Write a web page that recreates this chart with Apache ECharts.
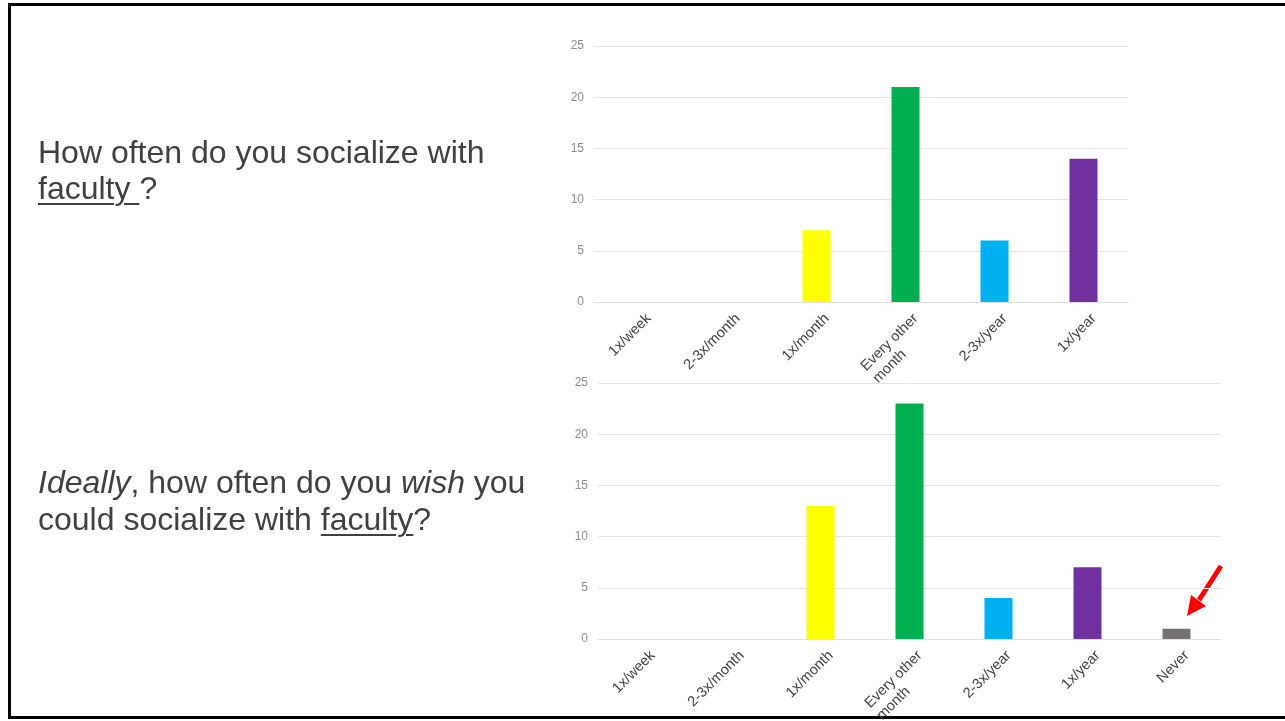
<!DOCTYPE html>
<html>
<head>
<meta charset="utf-8">
<script src="https://cdn.jsdelivr.net/npm/echarts@6/dist/echarts.min.js"></script>
<style>
  html, body { margin: 0; padding: 0; background: #fff; }
  #chart { width: 1285px; height: 721px; position: absolute; left: 0; top: 0; }
  .q { position: absolute; left: 38px; font-family: "Liberation Sans", Arial, sans-serif; font-size: 32px; line-height: 36px; color: #404040; white-space: nowrap; }
  .q u { text-decoration-thickness: 2px; text-underline-offset: 4px; }
</style>
</head>
<body>
<div id="chart"></div>
<div class="q" style="top:134px;">How often do you socialize with<br><u>faculty </u>?</div>
<div class="q" style="top:464px;line-height:37px;"><i>Ideally</i>, how often do you <i>wish</i> you<br>could socialize with <u>faculty</u>?</div>
<script>
const categoriesActual = ['1x/week', '2-3x/month', '1x/month', 'Every other\nmonth', '2-3x/year', '1x/year'];
const valuesActual = [0, 0, 7, 21, 6, 14];
const categoriesIdeal = ['1x/week', '2-3x/month', '1x/month', 'Every other\nmonth', '2-3x/year', '1x/year', 'Never'];
const valuesIdeal = [0, 0, 13, 23, 4, 7, 1];
const barColors = ['#4472C4', '#ED7D31', '#FFFF00', '#00B050', '#00B0F0', '#7030A0', '#767171'];
const yTicks = [0, 5, 10, 15, 20, 25];

const chart = echarts.init(document.getElementById('chart'), null, { renderer: 'canvas' });

function yAxisCfg(idx) {
  return {
    type: 'value', gridIndex: idx, min: yTicks[0], max: yTicks[yTicks.length - 1], interval: yTicks[1] - yTicks[0],
    axisLine: { show: false }, axisTick: { show: false },
    axisLabel: { color: '#8c8c8c', fontSize: 12, margin: 10, fontFamily: 'Liberation Sans, Arial, sans-serif' },
    splitLine: { lineStyle: { color: '#e4e4e4', width: 1 } }
  };
}
function xAxisCfg(idx, cats) {
  return {
    type: 'category', gridIndex: idx, data: cats,
    axisLine: { show: true, lineStyle: { color: '#e0e0e0' } }, axisTick: { show: false },
    axisLabel: {
      interval: 0, rotate: 45, margin: 4, verticalAlign: 'top', padding: [6, 0, 0, 0],
      formatter: (v) => v.split('\n').map(s => '{a|' + s + '}').join('\n'),
      rich: { a: { align: 'left', color: '#404040', fontSize: 14.5, lineHeight: 17, fontFamily: 'Liberation Sans, Arial, sans-serif' } }
    }
  };
}
function dataItems(vals) {
  return vals.map((v, i) => ({ value: v, itemStyle: { color: barColors[i] } }));
}

chart.setOption({
  animation: false,
  backgroundColor: '#ffffff',
  grid: [
    { left: 594, right: 157, top: 46, bottom: 419, containLabel: false, outerBoundsMode: 'none' },
    { left: 598, right: 64, top: 383, bottom: 82, containLabel: false, outerBoundsMode: 'none' }
  ],
  xAxis: [xAxisCfg(0, categoriesActual), xAxisCfg(1, categoriesIdeal)],
  yAxis: [yAxisCfg(0), yAxisCfg(1)],
  series: [
    { type: 'bar', xAxisIndex: 0, yAxisIndex: 0, data: dataItems(valuesActual), barWidth: 28 },
    { type: 'bar', xAxisIndex: 1, yAxisIndex: 1, data: dataItems(valuesIdeal), barWidth: 28 }
  ],
  graphic: [
    { type: 'rect', shape: { x: 9.5, y: 4.5, width: 1290, height: 713 }, style: { fill: 'none', stroke: '#000', lineWidth: 3 }, silent: true },
    { type: 'line', shape: { x1: 1221, y1: 566, x2: 1199, y2: 600 }, style: { stroke: '#ff0000', lineWidth: 5 }, silent: true },
    { type: 'polygon', shape: { points: [[1187, 616], [1206, 606], [1191, 595]] }, style: { fill: '#ff0000' }, silent: true }
  ]
});
</script>
</body>
</html>
